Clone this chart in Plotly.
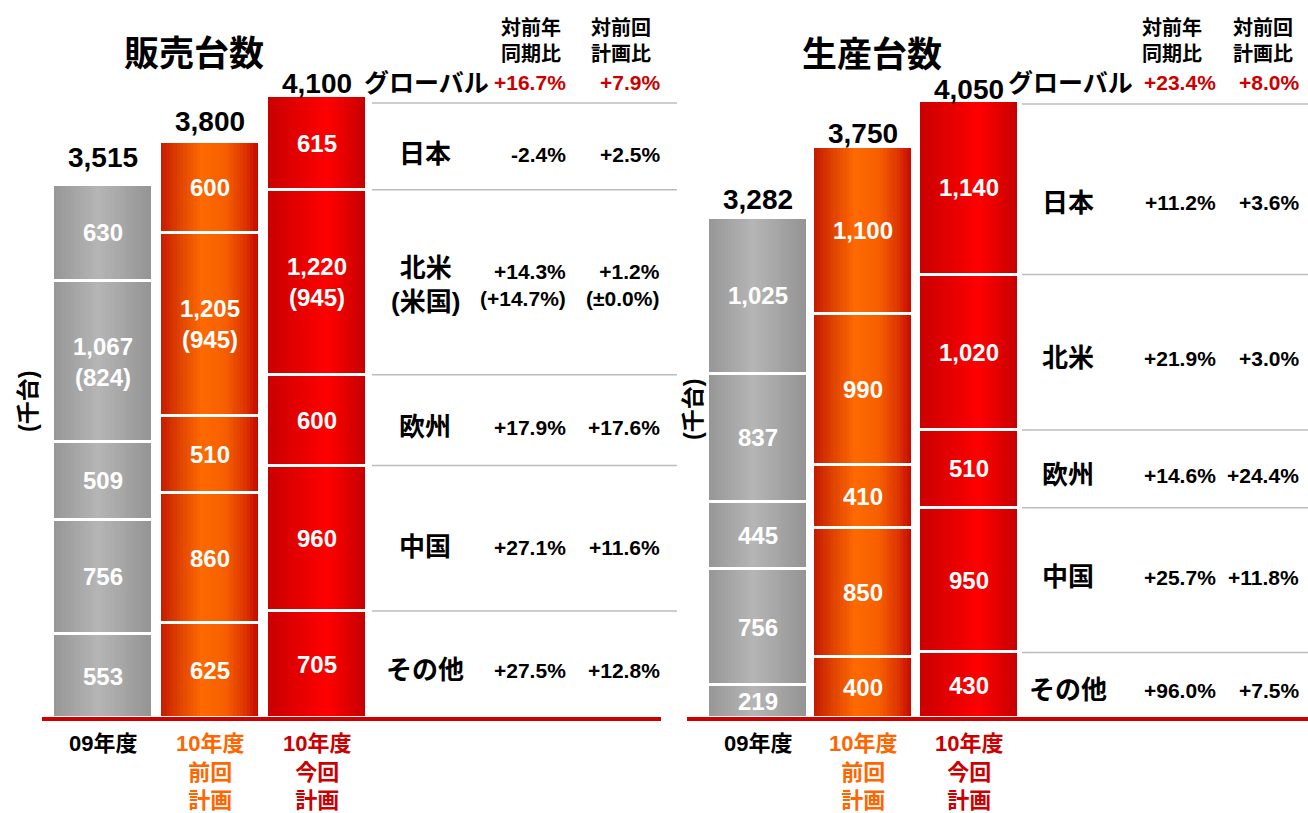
import plotly.graph_objects as go

W, H = 1308, 813

# ---------------- data ----------------
categories = ["09年度", "10年度<br>前回<br>計画", "10年度<br>今回<br>計画"]
category_colors = ["#000000", "#ff6600", "#cc0000"]

# stacked from bottom to top: その他, 中国, 欧州, 北米, 日本
sales_09 = [553, 756, 509, 1067, 630]
sales_10_prev = [625, 860, 510, 1205, 600]
sales_10_now = [705, 960, 600, 1220, 615]
sales_us = [824, 945, 945]          # 北米 of which 米国 (per column)

prod_09 = [219, 756, 445, 837, 1025]
prod_10_prev = [400, 850, 410, 990, 1100]
prod_10_now = [430, 950, 510, 1020, 1140]

# table (top to bottom)
sales_rows = ["日本", "北米<br>(米国)", "欧州", "中国", "その他"]
sales_yoy = ["-2.4%", "+14.3%<br>(+14.7%)", "+17.9%", "+27.1%", "+27.5%"]
sales_plan = ["+2.5%", "+1.2%<br>(±0.0%)", "+17.6%", "+11.6%", "+12.8%"]
sales_global = ["+16.7%", "+7.9%"]

prod_rows = ["日本", "北米", "欧州", "中国", "その他"]
prod_yoy = ["+11.2%", "+21.9%", "+14.6%", "+25.7%", "+96.0%"]
prod_plan = ["+3.6%", "+3.0%", "+24.4%", "+11.8%", "+7.5%"]
prod_global = ["+23.4%", "+8.0%"]

headers = ["対前年<br>同期比", "対前回<br>計画比"]

# ---------------- style ----------------
FONT = "Liberation Sans, Noto Sans CJK JP, sans-serif"
GRAD = [
    [(0, "#969696"), (0.45, "#b5b5b5"), (1, "#939393")],
    [(0, "#c41800"), (0.2, "#e04400"), (0.42, "#ff6a00"), (0.66, "#f65e00"), (0.86, "#dc3200"), (1, "#c00000")],
    [(0, "#c80000"), (0.6, "#ff0000"), (1, "#c40000")],
]
NSTRIP = 30


def hex2rgb(h):
    h = h.lstrip("#")
    return [int(h[i:i + 2], 16) for i in (0, 2, 4)]


def interp(stops, t):
    for (p0, c0), (p1, c1) in zip(stops[:-1], stops[1:]):
        if p0 <= t <= p1:
            f = (t - p0) / (p1 - p0) if p1 > p0 else 0
            a, b = hex2rgb(c0), hex2rgb(c1)
            return "rgb(%d,%d,%d)" % tuple(round(a[i] + (b[i] - a[i]) * f) for i in range(3))
    return stops[-1][1]


def px(x):
    return x / W


def py(y):
    return 1 - y / H


fig = go.Figure()
annotations = []
shapes = []


def bold(size, color="#000000"):
    return dict(family=FONT, size=size, color=color, weight="bold")


def ann(x, y, text, font, xref="paper", yref="paper", xanchor="center", yanchor="middle", **kw):
    d = dict(x=x, y=y, xref=xref, yref=yref, text=text, showarrow=False, font=font,
             xanchor=xanchor, yanchor=yanchor, borderpad=0)
    d.update(kw)
    annotations.append(d)


def build_chart(cols, xa, ya, bar_w, total_shift, us, row_labels, yoy, plan, glob,
                row_y, label_x, yoy_x, plan_x, glob_x, hdr_x, sep_x0, sep_x1, top_sep_y,
                title, title_xy, ytitle_xy):
    totals = [sum(c) for c in cols]
    xs = list(range(len(cols)))
    # gradient strips
    for k in range(NSTRIP):
        t = (k + 0.5) / NSTRIP
        fig.add_trace(go.Bar(
            x=xs, y=totals, base=[0] * len(cols),
            width=bar_w * (1 - k / NSTRIP), offset=-bar_w / 2 + k * bar_w / NSTRIP,
            marker=dict(color=[interp(GRAD[i], t) for i in range(3)], line=dict(width=0)),
            xaxis=xa, yaxis=ya, hoverinfo="skip", showlegend=False))
    # segment outlines (white gaps)
    sx, sy, sb = [], [], []
    for i, c in enumerate(cols):
        b = 0
        for v in c:
            sx.append(i)
            sy.append(v)
            sb.append(b)
            b += v
    fig.add_trace(go.Bar(
        x=sx, y=sy, base=sb, width=bar_w,
        marker=dict(color="rgba(0,0,0,0)", line=dict(color="white", width=3)),
        xaxis=xa, yaxis=ya, hoverinfo="skip", showlegend=False))
    # segment labels
    for i, c in enumerate(cols):
        b = 0
        for j, v in enumerate(c):
            txt = f"{v:,}"
            if us is not None and j == 3:
                txt += f"<br>({us[i]:,})"
            ann(i, b + v / 2, txt, bold(24, "white"), xref=xa, yref=ya)
            b += v
        ann(i, totals[i], f"{totals[i]:,}", bold(28), xref=xa, yref=ya, yshift=total_shift[i])
        ann(i, 0, categories[i], bold(22, category_colors[i]), xref=xa, yref=ya,
            yanchor="top", yshift=-12)
    # table separators
    b = 0
    now = cols[2]
    for v in now[:-1]:
        b += v
        shapes.append(dict(type="line", xref="paper", yref=ya, x0=px(sep_x0), x1=px(sep_x1),
                           y0=b, y1=b, line=dict(color="#bcbcbc", width=1.5)))
    shapes.append(dict(type="line", xref="paper", yref="paper", x0=px(sep_x0), x1=px(sep_x1),
                       y0=py(top_sep_y), y1=py(top_sep_y), line=dict(color="#bcbcbc", width=1.5)))
    # table text
    for r, lab in enumerate(row_labels):
        ann(px(label_x), py(row_y[r]), lab, bold(26))
        ann(px(yoy_x), py(row_y[r]), yoy[r], bold(21), xanchor="right", align="right")
        ann(px(plan_x), py(row_y[r]), plan[r], bold(21), xanchor="right", align="right")
    ann(px(glob_x), py(83), "グローバル", bold(25))
    ann(px(yoy_x), py(83), glob[0], bold(21, "#cc0000"), xanchor="right")
    ann(px(plan_x), py(83), glob[1], bold(21, "#cc0000"), xanchor="right")
    for h, hx in zip(headers, hdr_x):
        ann(px(hx), py(41), h, bold(20))
    ann(px(title_xy[0]), py(title_xy[1]), title, bold(35))
    ann(px(ytitle_xy[0]), py(ytitle_xy[1]), "(千台)", bold(23), textangle=-90)


build_chart([sales_09, sales_10_prev, sales_10_now], "x", "y", 100 / 107, [28, 20, 13], sales_us,
            sales_rows, sales_yoy, sales_plan, sales_global,
            row_y=[154, 285, 427, 547, 670], label_x=425, yoy_x=567, plan_x=661, glob_x=426,
            hdr_x=[531, 621], sep_x0=372, sep_x1=677, top_sep_y=103,
            title="販売台数", title_xy=(194, 53), ytitle_xy=(28, 402))

build_chart([prod_09, prod_10_prev, prod_10_now], "x2", "y2", 100 / 105.25, [18, 13, 11], None,
            prod_rows, prod_yoy, prod_plan, prod_global,
            row_y=[203, 358, 475, 577, 690], label_x=1068, yoy_x=1217, plan_x=1300, glob_x=1070,
            hdr_x=[1172, 1263], sep_x0=1022, sep_x1=1308, top_sep_y=104,
            title="生産台数", title_xy=(872, 55), ytitle_xy=(693, 410))

# baselines
shapes.append(dict(type="line", xref="paper", yref="paper", x0=px(42), x1=px(661),
                   y0=py(719), y1=py(719), line=dict(color="#cc0000", width=4)))
shapes.append(dict(type="line", xref="paper", yref="paper", x0=px(687), x1=1,
                   y0=py(719), y1=py(719), line=dict(color="#cc0000", width=4)))

fig.update_layout(
    width=W, height=H, margin=dict(l=0, r=0, t=0, b=0),
    paper_bgcolor="white", plot_bgcolor="rgba(0,0,0,0)",
    barmode="overlay", bargap=0, showlegend=False,
    xaxis=dict(domain=[px(42), px(661)], range=[(42 - 103) / 107, (661 - 103) / 107],
               visible=False, fixedrange=True),
    yaxis=dict(domain=[py(718), 1], range=[0, 718 / 0.1516], visible=False, fixedrange=True),
    xaxis2=dict(domain=[px(687), 1], range=[(687 - 758) / 105.25, (1308 - 758) / 105.25],
                visible=False, fixedrange=True),
    yaxis2=dict(domain=[py(718), 1], range=[0, 718 / 0.1524], visible=False, fixedrange=True),
    annotations=annotations, shapes=shapes,
)

fig.write_html("out.html", config={"displayModeBar": False},
               post_script="document.body.style.margin='0';document.body.style.overflow='hidden';")
